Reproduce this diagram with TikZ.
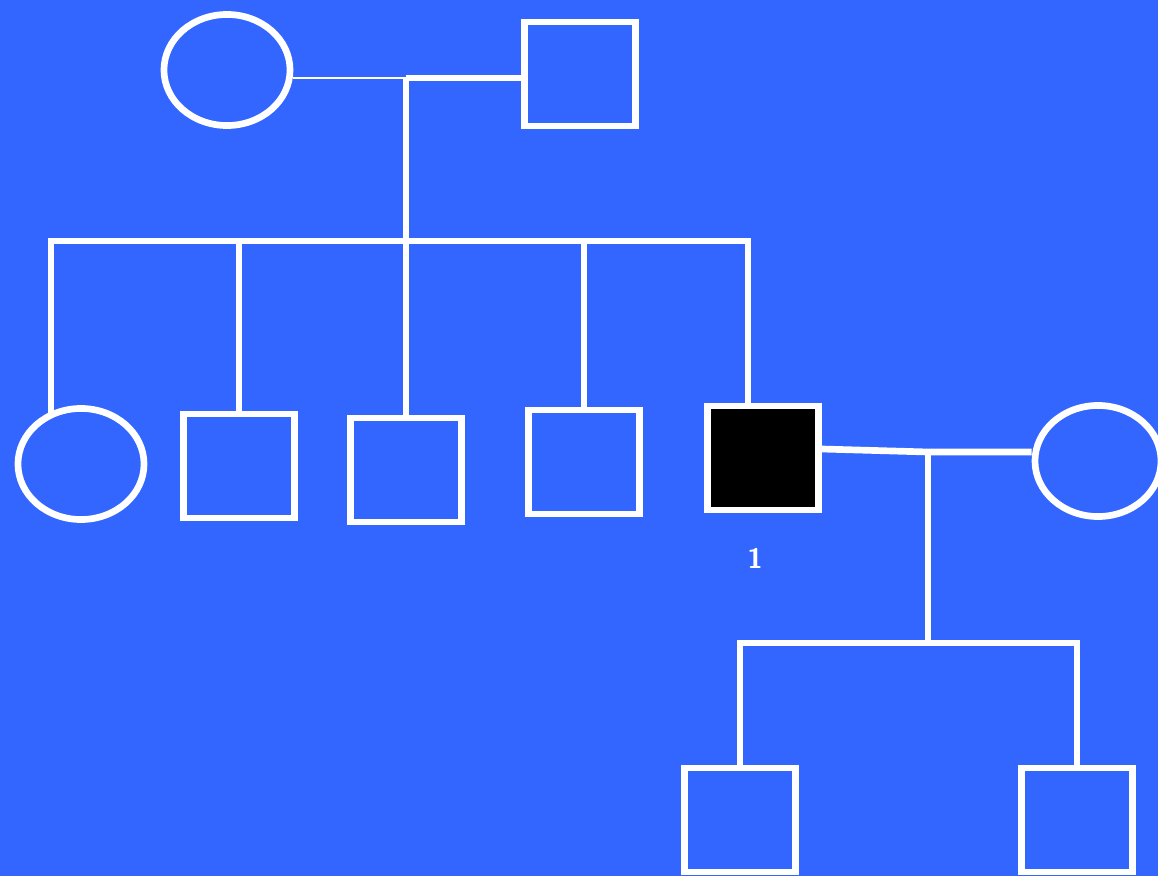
\documentclass[tikz,border=0pt]{standalone}
\usepackage{tikz}
\usetikzlibrary{shapes.geometric}
\definecolor{PedBlue}{RGB}{51,102,255}
\tikzset{
  fem/.style={ellipse,draw=white,line width=1.9pt,minimum width=1.26cm,minimum height=1.11cm,inner sep=0pt},
  mal/.style={rectangle,draw=white,line width=1.9pt,minimum width=1.11cm,minimum height=1.04cm,inner sep=0pt},
  aff/.style={mal,fill=black},
  ln/.style={white,line width=1.9pt},
  thinln/.style={white,line width=0.6pt},
  lbl/.style={text=white,font=\sffamily\bfseries\footnotesize},
}

\begin{document}
\begin{tikzpicture}[x=0.01cm,y=-0.01cm]
        \useasboundingbox (0,0) rectangle (1158,876);
        \clip (0,0) rectangle (1158,876);
        \fill[PedBlue] (0,0) rectangle (1158,876);
        % grandparents
        \node[fem] (gm) at (227,70) {};
        \node[mal] (gp) at (580,74) {};
        \coordinate (m1) at (406,78);
        \coordinate (sb) at (406,241);
        % children
        \node[fem] (c1) at (81,464) {};
        \node[mal] (c2) at (239,466) {};
        \node[mal] (c3) at (406,470) {};
        \node[mal] (c4) at (584,462) {};
        \node[aff] (c5) at (763,458) {};
        \node[lbl] (n1) at (755,558) {1};
        \coordinate (d1) at (51,416);
        \coordinate (d5) at (748,404);
        % spouse and grandchildren
        \node[fem] (sp) at (1098,461) {};
        \coordinate (m2) at (928,452);
        \coordinate (sb2) at (928,643);
        \node[mal] (g1) at (740,820) {};
        \node[mal] (g2) at (1077,820) {};
        \draw[thinln] (m1 -| gm.east) -- (m1);
        \draw[ln] (m1) -- (m1 -| gp.west);
        \draw[ln] (m1) -- (sb);
        \draw[ln] (d1) |- (sb) -| (d5);
        \draw[ln] (sb -| c2) -- (c2.north);
        \draw[ln] (sb) -- (c3.north);
        \draw[ln] (sb -| c4) -- (c4.north);
        \draw[ln] ([yshift=0.09cm]c5.east) -- (m2) -- ([yshift=0.09cm]sp.west);
        \draw[ln] (m2) -- (sb2);
        \draw[ln] (g1.north) |- (sb2) -| (g2.north);
      \end{tikzpicture}
\end{document}
